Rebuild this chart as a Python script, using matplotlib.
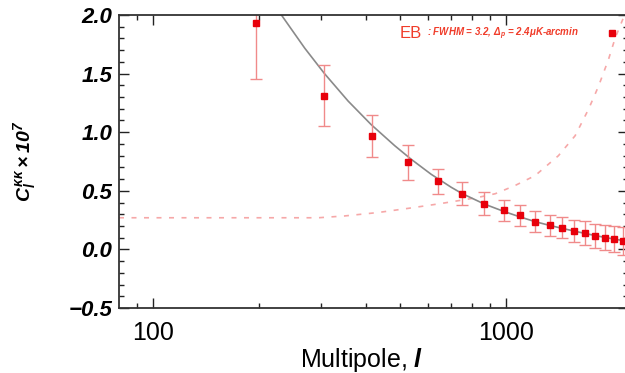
import matplotlib
matplotlib.use("Agg")
import matplotlib.pyplot as plt
from matplotlib.lines import Line2D
from matplotlib.ticker import FixedLocator, NullFormatter, MultipleLocator

plt.rcParams["font.family"] = ["Liberation Sans", "DejaVu Sans"]
plt.rcParams["mathtext.fontset"] = "custom"
plt.rcParams["mathtext.rm"] = "Liberation Sans:italic:bold"
plt.rcParams["mathtext.it"] = "Liberation Sans:italic:bold"
plt.rcParams["mathtext.bf"] = "Liberation Sans:italic:bold"

# Binned EB lensing reconstruction
ell = [196, 305, 417, 528, 641, 752, 869, 985, 1097, 1213, 1330, 1443,
       1559, 1672, 1794, 1911, 2030, 2145]
cl_kk = [1.93, 1.31, 0.97, 0.745, 0.58, 0.475, 0.39, 0.333, 0.29, 0.237,
         0.206, 0.184, 0.16, 0.14, 0.115, 0.10, 0.087, 0.072]
cl_err = [0.48, 0.26, 0.18, 0.15, 0.11, 0.10, 0.097, 0.09, 0.09, 0.09,
          0.09, 0.09, 0.095, 0.10, 0.10, 0.105, 0.11, 0.12]

# Fiducial convergence spectrum
ell_theory = [200, 231, 269, 306, 357, 415, 484, 539, 614, 700, 752, 869,
              985, 1100, 1213, 1330, 1443, 1559, 1672, 1794, 1911, 2030,
              2220]
cl_theory = [2.29, 2.0, 1.717, 1.50, 1.266, 1.065, 0.885, 0.769, 0.641,
             0.530, 0.476, 0.387, 0.325, 0.276, 0.236, 0.205, 0.18, 0.157,
             0.137, 0.118, 0.102, 0.088, 0.068]

# Reconstruction noise
ell_noise = [80, 200, 294, 348, 435, 528, 650, 823, 933, 1062, 1211, 1410,
             1572, 1715, 1830, 1954, 2040, 2150, 2220]
cl_noise = [0.27, 0.27, 0.27, 0.285, 0.315, 0.35, 0.39, 0.44, 0.475, 0.545,
            0.63, 0.80, 0.97, 1.195, 1.39, 1.62, 1.80, 1.97, 2.08]

x_major = [100, 1000]
x_minor = [90, 200, 300, 400, 500, 600, 700, 800, 900]
y_ticks = [-0.5, 0.0, 0.5, 1.0, 1.5, 2.0]

fig = plt.figure(figsize=(6.25, 3.73), dpi=100)
ax = fig.add_axes([119 / 625, 1 - 308 / 373, 509 / 625, 293 / 373])

ax.plot(ell_noise, cl_noise, color="#f6a8a8", lw=1.2, ls=(0, (3, 4.5)))
ax.plot(ell_theory, cl_theory, color="#8a8a8a", lw=1.2)
ax.errorbar(ell, cl_kk, yerr=cl_err, fmt="none", ecolor="#f08a8a",
            elinewidth=1.0, capsize=4, capthick=1.0)
ax.plot(ell, cl_kk, ls="none", marker="s", ms=5, color="#e8000b",
        mec="#e8000b")

ax.set_xscale("log")
ax.set_xlim(80, 2220)
ax.set_ylim(-0.5, 2.0)

ax.xaxis.set_major_locator(FixedLocator(x_major))
ax.xaxis.set_minor_locator(FixedLocator(x_minor))
ax.xaxis.set_minor_formatter(NullFormatter())
ax.set_xticklabels([str(v) for v in x_major])
ax.yaxis.set_major_locator(FixedLocator(y_ticks))
ax.yaxis.set_minor_locator(MultipleLocator(0.1))
ax.set_yticklabels(["\u22120.5", "0.0", "0.5", "1.0", "1.5", "2.0"])

ax.tick_params(which="both", direction="in", top=True, right=True,
               width=1.0, color="#222222")
ax.tick_params(which="major", length=7)
ax.tick_params(which="minor", length=3.5)
ax.tick_params(axis="x", labelsize=18, pad=9)
ax.tick_params(axis="y", labelsize=16, pad=5)
for lab in ax.get_yticklabels():
    lab.set_fontweight("bold")
    lab.set_fontstyle("italic")

for sp in ax.spines.values():
    sp.set_linewidth(1.3)
    sp.set_color("#333333")

ax.set_xlabel("Multipole, $l$", fontsize=18)
ax.xaxis.set_label_coords((361.5 - 119) / 509, -0.13)
ax.set_ylabel(r"$C_l^{\kappa\kappa}\times10^7$", fontsize=14)
ax.yaxis.set_label_coords((38 - 119) / 509, 0.5)

# Legend entry
ax.text(0.551, 0.938, "EB", transform=ax.transAxes, fontsize=12,
        color="#f03c2a", va="center", ha="left")
ax.text(0.903, 0.936, r": FWHM = 3.2, $\Delta_p$ = 2.4$\mu$K-arcmin",
        transform=ax.transAxes, fontsize=7.0, color="#f03c2a",
        fontweight="bold", fontstyle="italic", va="center", ha="right")
key = Line2D([], [], ls="none", marker="s", ms=5, color="#e8000b")
ax.legend(handles=[key], labels=[""], loc="center",
          bbox_to_anchor=((612 - 119) / 509, (308 - 34) / 293),
          frameon=False, handlelength=1, handletextpad=0, borderpad=0,
          borderaxespad=0)

fig.savefig("out.png", dpi=100)
